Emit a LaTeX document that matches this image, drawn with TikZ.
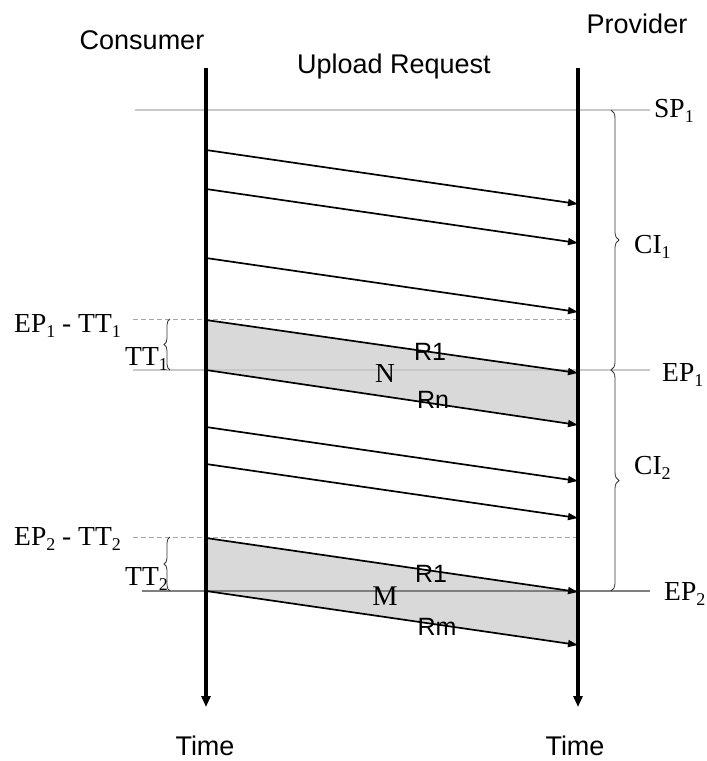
\documentclass[tikz,border=0pt]{standalone}
\usepackage{fontspec}
\setmainfont{Liberation Serif}
\newfontfamily\arialf{Liberation Sans}
\usetikzlibrary{arrows.meta,decorations.pathreplacing}
\definecolor{bandgrey}{HTML}{D9D9D9}
\definecolor{lightline}{HTML}{C8C8C8}
\definecolor{midline}{HTML}{7F7F7F}
\newcommand\sbs[1]{\raisebox{-5pt}{\fontsize{18}{18}\selectfont #1}}
\begin{document}
\begin{tikzpicture}[x=1pt,y=-1pt,
  sans/.style={font=\arialf\fontsize{27}{30}\selectfont, inner sep=0pt},
  sanssmall/.style={font=\arialf\fontsize{25}{28}\selectfont, inner sep=0pt},
  serif/.style={font=\fontsize{27.5}{30}\selectfont, inner sep=0pt},
  msg/.style={line width=1.7pt, -{Triangle[length=10pt,width=7pt]}},
  timeline/.style={line width=3.4pt, -{Triangle[length=11pt,width=9pt]}},
  band/.style={fill=bandgrey, draw=none},
  faint/.style={draw=lightline, line width=1.1pt},
  dashline/.style={draw=gray!70, line width=0.8pt, dashed, dash pattern=on 5pt off 3pt},
  epline/.style={draw=midline, line width=1.5pt},
  bracestyle/.style={draw=black!80, line width=0.8pt, decorate}
]
\useasboundingbox (0,0) rectangle (707,761);
% timeline endpoints
\coordinate (ctop) at (206,68);
\coordinate (cbot) at (206,707);
\coordinate (ptop) at (578,68);
\coordinate (pbot) at (578,707);
% shaded bands
\coordinate (b1a) at (206,320); \coordinate (b1b) at (578,373);
\coordinate (b1c) at (578,425); \coordinate (b1d) at (206,370);
\coordinate (b2a) at (206,538); \coordinate (b2b) at (578,592);
\coordinate (b2c) at (578,645); \coordinate (b2d) at (206,591);
\fill[band] (b1a) -- (b1b) -- (b1c) -- (b1d) -- cycle;
\fill[band] (b2a) -- (b2b) -- (b2c) -- (b2d) -- cycle;
% horizontal reference lines
\coordinate (sp1l) at (135,110); \coordinate (sp1r) at (650,110);
\coordinate (tt1l) at (133,319); \coordinate (tt1r) at (578,319);
\coordinate (ep1l) at (133,370); \coordinate (ep1r) at (650,370);
\coordinate (tt2l) at (133,537); \coordinate (tt2r) at (578,537);
\coordinate (ep2l) at (142,591); \coordinate (ep2r) at (650,591);
\draw[faint] (sp1l) -- (sp1r);
\draw[dashline] (tt1l) -- (tt1r);
\draw[faint] (ep1l) -- (ep1r);
\draw[dashline] (tt2l) -- (tt2r);
\draw[epline] (ep2l) -- (ep2r);
% messages
\foreach \i/\s/\e in {1/150/204, 2/189/243, 3/258/312, 4/320/373, 5/370/425, 6/427/481, 7/464/518, 8/538/592, 9/591/645}{
  \coordinate (m\i s) at (206,\s);
  \coordinate (m\i e) at (578,\e);
  \draw[msg] (m\i s) -- (m\i e);
}
% timelines
\draw[timeline] (ctop) -- (cbot);
\draw[timeline] (ptop) -- (pbot);
% braces
\coordinate (tt1b) at (170,370); \coordinate (tt1t) at (170,319);
\coordinate (tt2b) at (170,591); \coordinate (tt2t) at (170,537);
\coordinate (ci1t) at (611,110); \coordinate (ci1b) at (611,370);
\coordinate (ci2t) at (611,370); \coordinate (ci2b) at (611,591);
\draw[bracestyle, decoration={brace, amplitude=6pt}] (tt1b) -- (tt1t);
\draw[bracestyle, decoration={brace, amplitude=6pt}] (tt2b) -- (tt2t);
\draw[bracestyle, decoration={brace, amplitude=8pt}] (ci1t) -- (ci1b);
\draw[bracestyle, decoration={brace, amplitude=8pt}] (ci2t) -- (ci2b);
% labels
\node[sans, anchor=base] (consumer) at (142,49) {Consumer};
\node[sans, anchor=base] (upload) at (394,73) {Upload Request};
\node[sans, anchor=base] (provider) at (637,33) {Provider};
\node[sans, anchor=base] (timec) at (205,755) {Time};
\node[sans, anchor=base] (timep) at (575,755) {Time};
\node[serif, anchor=base west] (sp1) at (654,117) {SP\sbs{1}};
\node[serif, anchor=base west] (ci1) at (634,253) {CI\sbs{1}};
\node[serif, anchor=base west] (ci2) at (634,474) {CI\sbs{2}};
\node[serif, anchor=base west] (ep1) at (662,381) {EP\sbs{1}};
\node[serif, anchor=base west] (ep2) at (664,600) {EP\sbs{2}};
\node[serif, anchor=base west] (ep1tt1) at (14,332) {EP\sbs{1} - TT\sbs{1}};
\node[serif, anchor=base west] (ep2tt2) at (14,545) {EP\sbs{2} - TT\sbs{2}};
\node[serif, anchor=base east] (tt1) at (168,365) {TT\sbs{1}};
\node[serif, anchor=base east] (tt2) at (168,585) {TT\sbs{2}};
\node[serif, font=\fontsize{27.5}{30}\selectfont, anchor=base] (n) at (385,382) {N};
\node[serif, font=\fontsize{28.5}{30}\selectfont, anchor=base] (m) at (385,605) {M};
\node[sanssmall, anchor=base] (r1a) at (430,360) {R1};
\node[sanssmall, anchor=base] (rn) at (433,408) {Rn};
\node[sanssmall, anchor=base] (r1b) at (431,582) {R1};
\node[sanssmall, anchor=base] (rm) at (437,635) {Rm};
\end{tikzpicture}
\end{document}
